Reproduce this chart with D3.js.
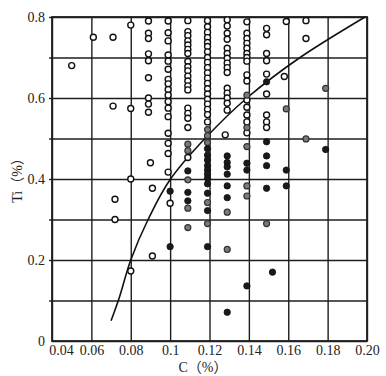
<!DOCTYPE html>
<html>
<head>
<meta charset="utf-8">
<script src="https://cdn.jsdelivr.net/npm/d3@7.9.0/dist/d3.min.js"></script>
<style>
  body { margin: 0; background: #fff; }
  #chart svg { display: block; }
  .tick text { font-family: 'Liberation Serif', serif; font-size: 14px; fill: #222; }
  .grid line { stroke: #1e1e1e; stroke-width: 1.4; }
  .grid path { display: none; }
</style>
</head>
<body>
<div id="chart"></div>
<script>
// Axis ticks
const xTicks = [0.04, 0.06, 0.08, 0.10, 0.12, 0.14, 0.16, 0.18, 0.20];
const xLabels = ['0.04', '0.06', '0.08', '0.1', '0.12', '0.14', '0.16', '0.18', '0.20'];
const yTicks = [0, 0.1, 0.2, 0.3, 0.4, 0.5, 0.6, 0.7, 0.8];
const yLabels = ['0', '', '0.2', '', '0.4', '', '0.6', '', '0.8'];

// Open circles: [C, Ti]
const openPts = [
  [0.050, 0.68], [0.061, 0.75], [0.071, 0.75], [0.080, 0.78], [0.071, 0.58],
  [0.080, 0.574], [0.080, 0.40], [0.072, 0.35], [0.072, 0.30], [0.080, 0.173],
  [0.091, 0.21], [0.091, 0.377], [0.090, 0.44],
  // C ~ 0.09
  [0.089, 0.79], [0.089, 0.76], [0.089, 0.747], [0.089, 0.709], [0.089, 0.692],
  [0.089, 0.65], [0.089, 0.60], [0.089, 0.585], [0.089, 0.565],
  // C ~ 0.10
  [0.099, 0.79], [0.099, 0.761], [0.099, 0.741], [0.099, 0.706], [0.099, 0.691],
  [0.099, 0.671], [0.099, 0.646], [0.099, 0.635], [0.099, 0.621], [0.099, 0.607],
  [0.099, 0.591], [0.099, 0.575], [0.099, 0.554], [0.099, 0.513], [0.099, 0.488],
  [0.099, 0.463], [0.099, 0.417], [0.100, 0.34],
  // C ~ 0.11
  [0.109, 0.791], [0.109, 0.764], [0.109, 0.754], [0.109, 0.741], [0.109, 0.731],
  [0.109, 0.72], [0.109, 0.71], [0.109, 0.69], [0.109, 0.677], [0.109, 0.667],
  [0.109, 0.654], [0.109, 0.642], [0.109, 0.63], [0.109, 0.62], [0.109, 0.575],
  [0.109, 0.562], [0.109, 0.55], [0.109, 0.527], [0.109, 0.453],
  // C ~ 0.12
  [0.119, 0.791], [0.119, 0.776], [0.119, 0.762], [0.119, 0.749], [0.119, 0.737],
  [0.119, 0.727], [0.119, 0.714], [0.119, 0.70], [0.119, 0.688], [0.119, 0.675],
  [0.119, 0.662], [0.119, 0.649], [0.119, 0.636], [0.119, 0.623], [0.119, 0.61],
  [0.119, 0.597], [0.119, 0.585], [0.119, 0.572], [0.119, 0.559], [0.119, 0.541],
  // C ~ 0.13
  [0.129, 0.793], [0.129, 0.778], [0.129, 0.76], [0.129, 0.745], [0.129, 0.723],
  [0.129, 0.71], [0.129, 0.698], [0.129, 0.686], [0.129, 0.675], [0.129, 0.663],
  [0.129, 0.624], [0.129, 0.612], [0.129, 0.60], [0.129, 0.587], [0.129, 0.57],
  [0.128, 0.509],
  // C ~ 0.14
  [0.139, 0.788], [0.139, 0.76], [0.139, 0.747], [0.139, 0.735], [0.139, 0.723],
  [0.139, 0.71], [0.139, 0.70], [0.139, 0.691], [0.139, 0.657], [0.139, 0.642],
  [0.139, 0.595], [0.139, 0.577], [0.139, 0.558], [0.139, 0.541], [0.139, 0.514],
  // C ~ 0.15 - 0.17
  [0.149, 0.772], [0.149, 0.756], [0.149, 0.71], [0.149, 0.692], [0.149, 0.659],
  [0.149, 0.61], [0.149, 0.558], [0.149, 0.541], [0.149, 0.527],
  [0.159, 0.789], [0.158, 0.653], [0.169, 0.791], [0.169, 0.747]
];

// Solid dots
const filledPts = [
  [0.100, 0.37], [0.100, 0.233],
  [0.109, 0.42], [0.109, 0.367], [0.109, 0.346],
  [0.119, 0.475], [0.119, 0.459], [0.119, 0.447], [0.119, 0.433], [0.119, 0.422],
  [0.119, 0.412], [0.119, 0.402], [0.119, 0.388], [0.119, 0.365], [0.119, 0.322],
  [0.119, 0.233],
  [0.129, 0.457], [0.129, 0.441], [0.129, 0.43], [0.129, 0.412], [0.129, 0.383],
  [0.129, 0.354], [0.129, 0.071],
  [0.139, 0.439], [0.139, 0.422], [0.139, 0.136],
  [0.149, 0.64], [0.149, 0.492], [0.149, 0.457], [0.149, 0.433], [0.149, 0.377],
  [0.152, 0.17],
  [0.159, 0.422], [0.159, 0.383], [0.179, 0.473]
];

// Half-tone dots
const grayPts = [
  [0.109, 0.486], [0.109, 0.47], [0.109, 0.398], [0.109, 0.328], [0.109, 0.28],
  [0.119, 0.522], [0.119, 0.507], [0.119, 0.49], [0.119, 0.342], [0.119, 0.29],
  [0.129, 0.318], [0.129, 0.226],
  [0.139, 0.607], [0.139, 0.527], [0.139, 0.48], [0.139, 0.383], [0.139, 0.358],
  [0.149, 0.29], [0.159, 0.573], [0.169, 0.499], [0.179, 0.624]
];

// Boundary curve (read where it crosses each gridline)
const curvePts = [
  [0.070, 0.05], [0.0737, 0.10], [0.080, 0.20], [0.0888, 0.30], [0.1002, 0.40],
  [0.1177, 0.50], [0.139, 0.60], [0.166, 0.70], [0.199, 0.80]
];

const width = 386;
const height = 376;
const margin = { top: 17, right: 19, bottom: 35, left: 52 };
const plotW = width - margin.left - margin.right;
const plotH = height - margin.top - margin.bottom;

const svg = d3.select('#chart')
  .append('svg')
  .attr('width', width)
  .attr('height', height);

const x = d3.scaleLinear().domain([0.04, 0.20]).range([margin.left, margin.left + plotW]);
const y = d3.scaleLinear().domain([0, 0.8]).range([margin.top + plotH, margin.top]);

// Vertical gridlines + x labels
const xAxis = svg.append('g')
  .attr('class', 'grid')
  .attr('transform', `translate(0, ${margin.top + plotH})`)
  .call(d3.axisBottom(x)
    .tickValues(xTicks)
    .tickSize(-plotH)
    .tickPadding(4)
    .tickFormat((d, i) => xLabels[i]));
xAxis.selectAll('.tick text').filter((d, i) => i === 0).attr('dx', 9);

// Horizontal gridlines + y labels
svg.append('g')
  .attr('class', 'grid')
  .attr('transform', `translate(${margin.left}, 0)`)
  .call(d3.axisLeft(y)
    .tickValues(yTicks)
    .tickSize(-plotW)
    .tickPadding(7)
    .tickFormat((d, i) => yLabels[i]));

// short outward stubs on the left
svg.append('g')
  .attr('class', 'grid')
  .attr('transform', `translate(${margin.left}, 0)`)
  .call(d3.axisLeft(y).tickValues(yTicks.slice(1)).tickSize(3).tickFormat(''));

// Outer frame
svg.append('rect')
  .attr('x', margin.left)
  .attr('y', margin.top)
  .attr('width', plotW)
  .attr('height', plotH)
  .attr('fill', 'none')
  .attr('stroke', '#1e1e1e')
  .attr('stroke-width', 1.8);

// Curve
svg.append('path')
  .datum(curvePts)
  .attr('fill', 'none')
  .attr('stroke', '#111')
  .attr('stroke-width', 1.6)
  .attr('d', d3.line()
    .x(d => x(d[0]))
    .y(d => y(d[1]))
    .curve(d3.curveMonotoneY));

// Points
const dots = svg.append('g');
dots.selectAll('circle.open')
  .data(openPts)
  .join('circle')
  .attr('class', 'open')
  .attr('cx', d => x(d[0]))
  .attr('cy', d => y(d[1]))
  .attr('r', 3)
  .attr('fill', '#fff')
  .attr('stroke', '#111')
  .attr('stroke-width', 1.4);

dots.selectAll('circle.gray')
  .data(grayPts)
  .join('circle')
  .attr('class', 'gray')
  .attr('cx', d => x(d[0]))
  .attr('cy', d => y(d[1]))
  .attr('r', 3)
  .attr('fill', '#7a7a7a')
  .attr('stroke', '#333')
  .attr('stroke-width', 1.2);

dots.selectAll('circle.filled')
  .data(filledPts)
  .join('circle')
  .attr('class', 'filled')
  .attr('cx', d => x(d[0]))
  .attr('cy', d => y(d[1]))
  .attr('r', 3.2)
  .attr('fill', '#1a1a1a')
  .attr('stroke', '#111')
  .attr('stroke-width', 0.8);

// Axis titles
svg.append('text')
  .attr('transform', `translate(22, 177) rotate(-90)`)
  .attr('text-anchor', 'middle')
  .style('font-family', "'Liberation Serif', 'Noto Sans CJK SC', serif")
  .style('font-size', '14px')
  .attr('fill', '#222')
  .text('Ti（%）');

svg.append('text')
  .attr('x', 203)
  .attr('y', 372)
  .attr('text-anchor', 'middle')
  .style('font-family', "'Liberation Serif', 'Noto Sans CJK SC', serif")
  .style('font-size', '14px')
  .attr('fill', '#222')
  .text('C（%）');
</script>
</body>
</html>
